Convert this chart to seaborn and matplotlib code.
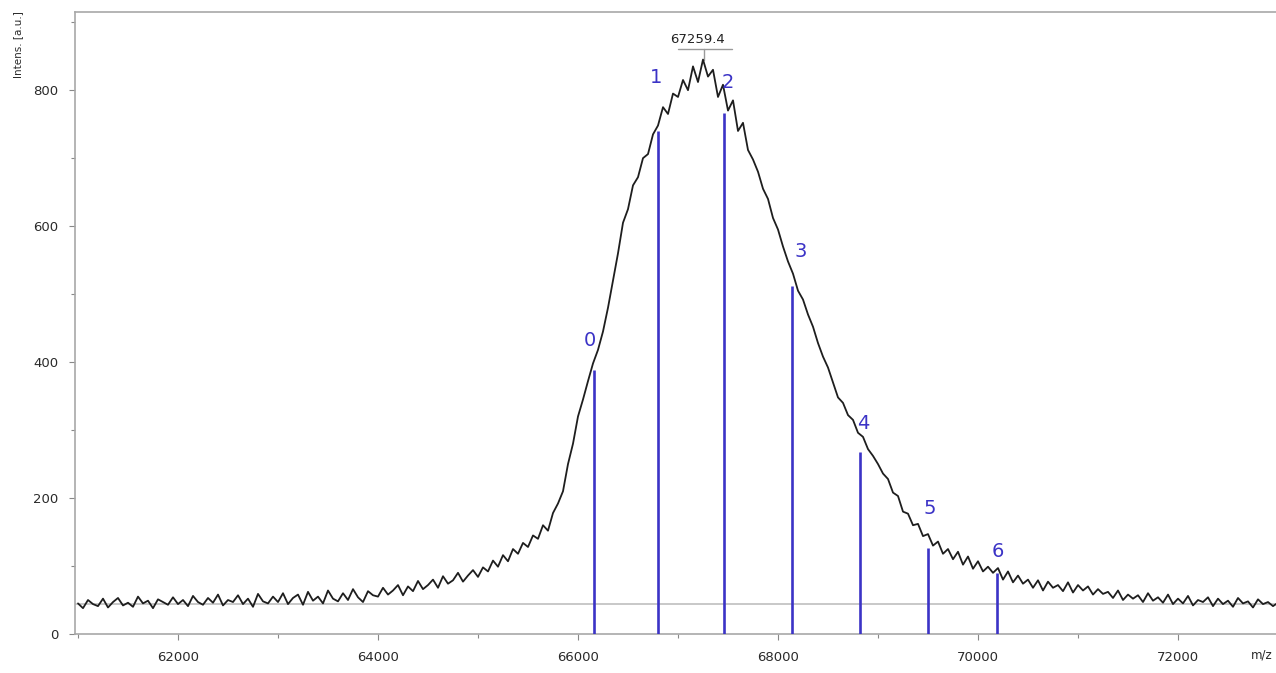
import numpy as np
import pandas as pd
import matplotlib
matplotlib.use("Agg")
import matplotlib.pyplot as plt
from matplotlib.ticker import MultipleLocator
import seaborn as sns

# ---- data ----
mz = list(range(61000, 73001, 50))
intensity = [
    45, 38, 50, 44, 41, 52, 39, 47, 53, 42, 46, 40, 55, 45, 49, 38, 51, 47, 43, 54,
    44, 50, 41, 56, 47, 43, 53, 46, 58, 42, 50, 47, 57, 44, 52, 40, 59, 48, 45, 55,
    47, 60, 44, 53, 58, 43, 62, 49, 55, 45, 64, 52, 48, 60, 50, 66, 54, 47, 63, 57,
    55, 68, 58, 64, 72, 57, 70, 63, 78, 66, 72, 80, 68, 85, 74, 79, 90, 77, 86, 94,
    84, 98, 92, 108, 99, 116, 107, 125, 118, 134, 128, 145, 140, 160, 152, 178, 192, 210, 250, 280,
    320, 345, 372, 398, 418, 445, 480, 520, 560, 605, 625, 660, 672, 700, 706, 735, 748, 775, 765, 795,
    790, 815, 800, 835, 812, 845, 820, 830, 790, 808, 770, 785, 740, 752, 712, 698, 680, 655, 640, 612,
    595, 570, 548, 530, 505, 492, 470, 452, 428, 408, 392, 370, 348, 340, 322, 315, 296, 290, 272, 262,
    250, 236, 228, 208, 203, 180, 177, 160, 162, 144, 147, 130, 136, 118, 125, 110, 121, 102, 114, 96,
    107, 92, 99, 90, 97, 80, 92, 76, 86, 74, 80, 68, 79, 64, 77, 68, 72, 63, 76, 61,
    72, 64, 70, 58, 66, 59, 62, 53, 64, 50, 58, 52, 57, 47, 60, 49, 54, 46, 58, 44,
    52, 45, 56, 42, 50, 47, 54, 41, 52, 44, 49, 40, 53, 45, 48, 39, 51, 44, 47, 41, 46,
]

marker_labels = ["0", "1", "2", "3", "4", "5", "6"]
marker_mz = [66160, 66800, 67460, 68140, 68820, 69500, 70190]
marker_top = [388, 740, 766, 512, 268, 127, 90]
label_mz = [66120, 66780, 67500, 68230, 68850, 69520, 70200]
label_y = [432, 819, 812, 562, 310, 185, 122]

peak_mz = 67259.4
peak_label = "67259.4"
baseline_level = 44

x_ticks = [62000, 64000, 66000, 68000, 70000, 72000]
y_ticks = [0, 200, 400, 600, 800]

df = pd.DataFrame({"mz": mz, "intensity": intensity})

sns.set_style("ticks")
plt.rcParams["font.family"] = ["DejaVu Sans"]

fig = plt.figure(figsize=(12.76, 6.73), dpi=100)
ax = fig.add_axes([75 / 1276, 1 - 634 / 673, 1 - 75 / 1276, (634 - 12) / 673])

ax.axhline(baseline_level, color="#c4c4c4", lw=1.3, zorder=1)
sns.lineplot(data=df, x="mz", y="intensity", ax=ax, color="#1e1e1e", lw=1.3, zorder=3)

blue = "#3b33c6"
ax.vlines(marker_mz, 0, marker_top, colors=blue, lw=1.9, zorder=4)
for lab, lx, ly in zip(marker_labels, label_mz, label_y):
    ax.text(lx, ly, lab, color=blue, fontsize=14, ha="center", va="center", zorder=5)

# peak annotation
ax.text(peak_mz - 60, 865, peak_label, fontsize=9.5, ha="center", va="bottom", color="#222222")
ax.plot([peak_mz - 260, peak_mz + 280], [860, 860], color="#9a9a9a", lw=1.0)
ax.plot([peak_mz, peak_mz], [860, 845], color="#9a9a9a", lw=1.0)

ax.set_xlim(60970, 72980)
ax.set_ylim(0, 915)
ax.set_xticks(x_ticks)
ax.set_xticklabels([str(v) for v in x_ticks])
ax.set_yticks(y_ticks)
ax.set_yticklabels([str(v) for v in y_ticks])
ax.xaxis.set_minor_locator(MultipleLocator(1000))
ax.yaxis.set_minor_locator(MultipleLocator(100))
ax.tick_params(axis="both", which="major", length=4, width=0.8, color="#888888",
               labelsize=9.5, labelcolor="#2a2a2a", pad=8)
ax.tick_params(axis="both", which="minor", length=3, width=0.8, color="#888888")
ax.set_xlabel("")
ax.set_ylabel("")

for side in ["left", "bottom", "top"]:
    ax.spines[side].set_color("#a8a8a8")
    ax.spines[side].set_linewidth(1.2)
ax.spines["top"].set_visible(True)
ax.spines["right"].set_visible(False)

fig.text(18 / 1276, 1 - 45 / 673, "Intens. [a.u.]", rotation=90, fontsize=7.5,
         ha="center", va="center", color="#2a2a2a")
fig.text(1262 / 1276, 1 - 655 / 673, "m/z", fontsize=8.5, ha="center", va="center",
         color="#2a2a2a")

fig.savefig("out.png", dpi=100)
